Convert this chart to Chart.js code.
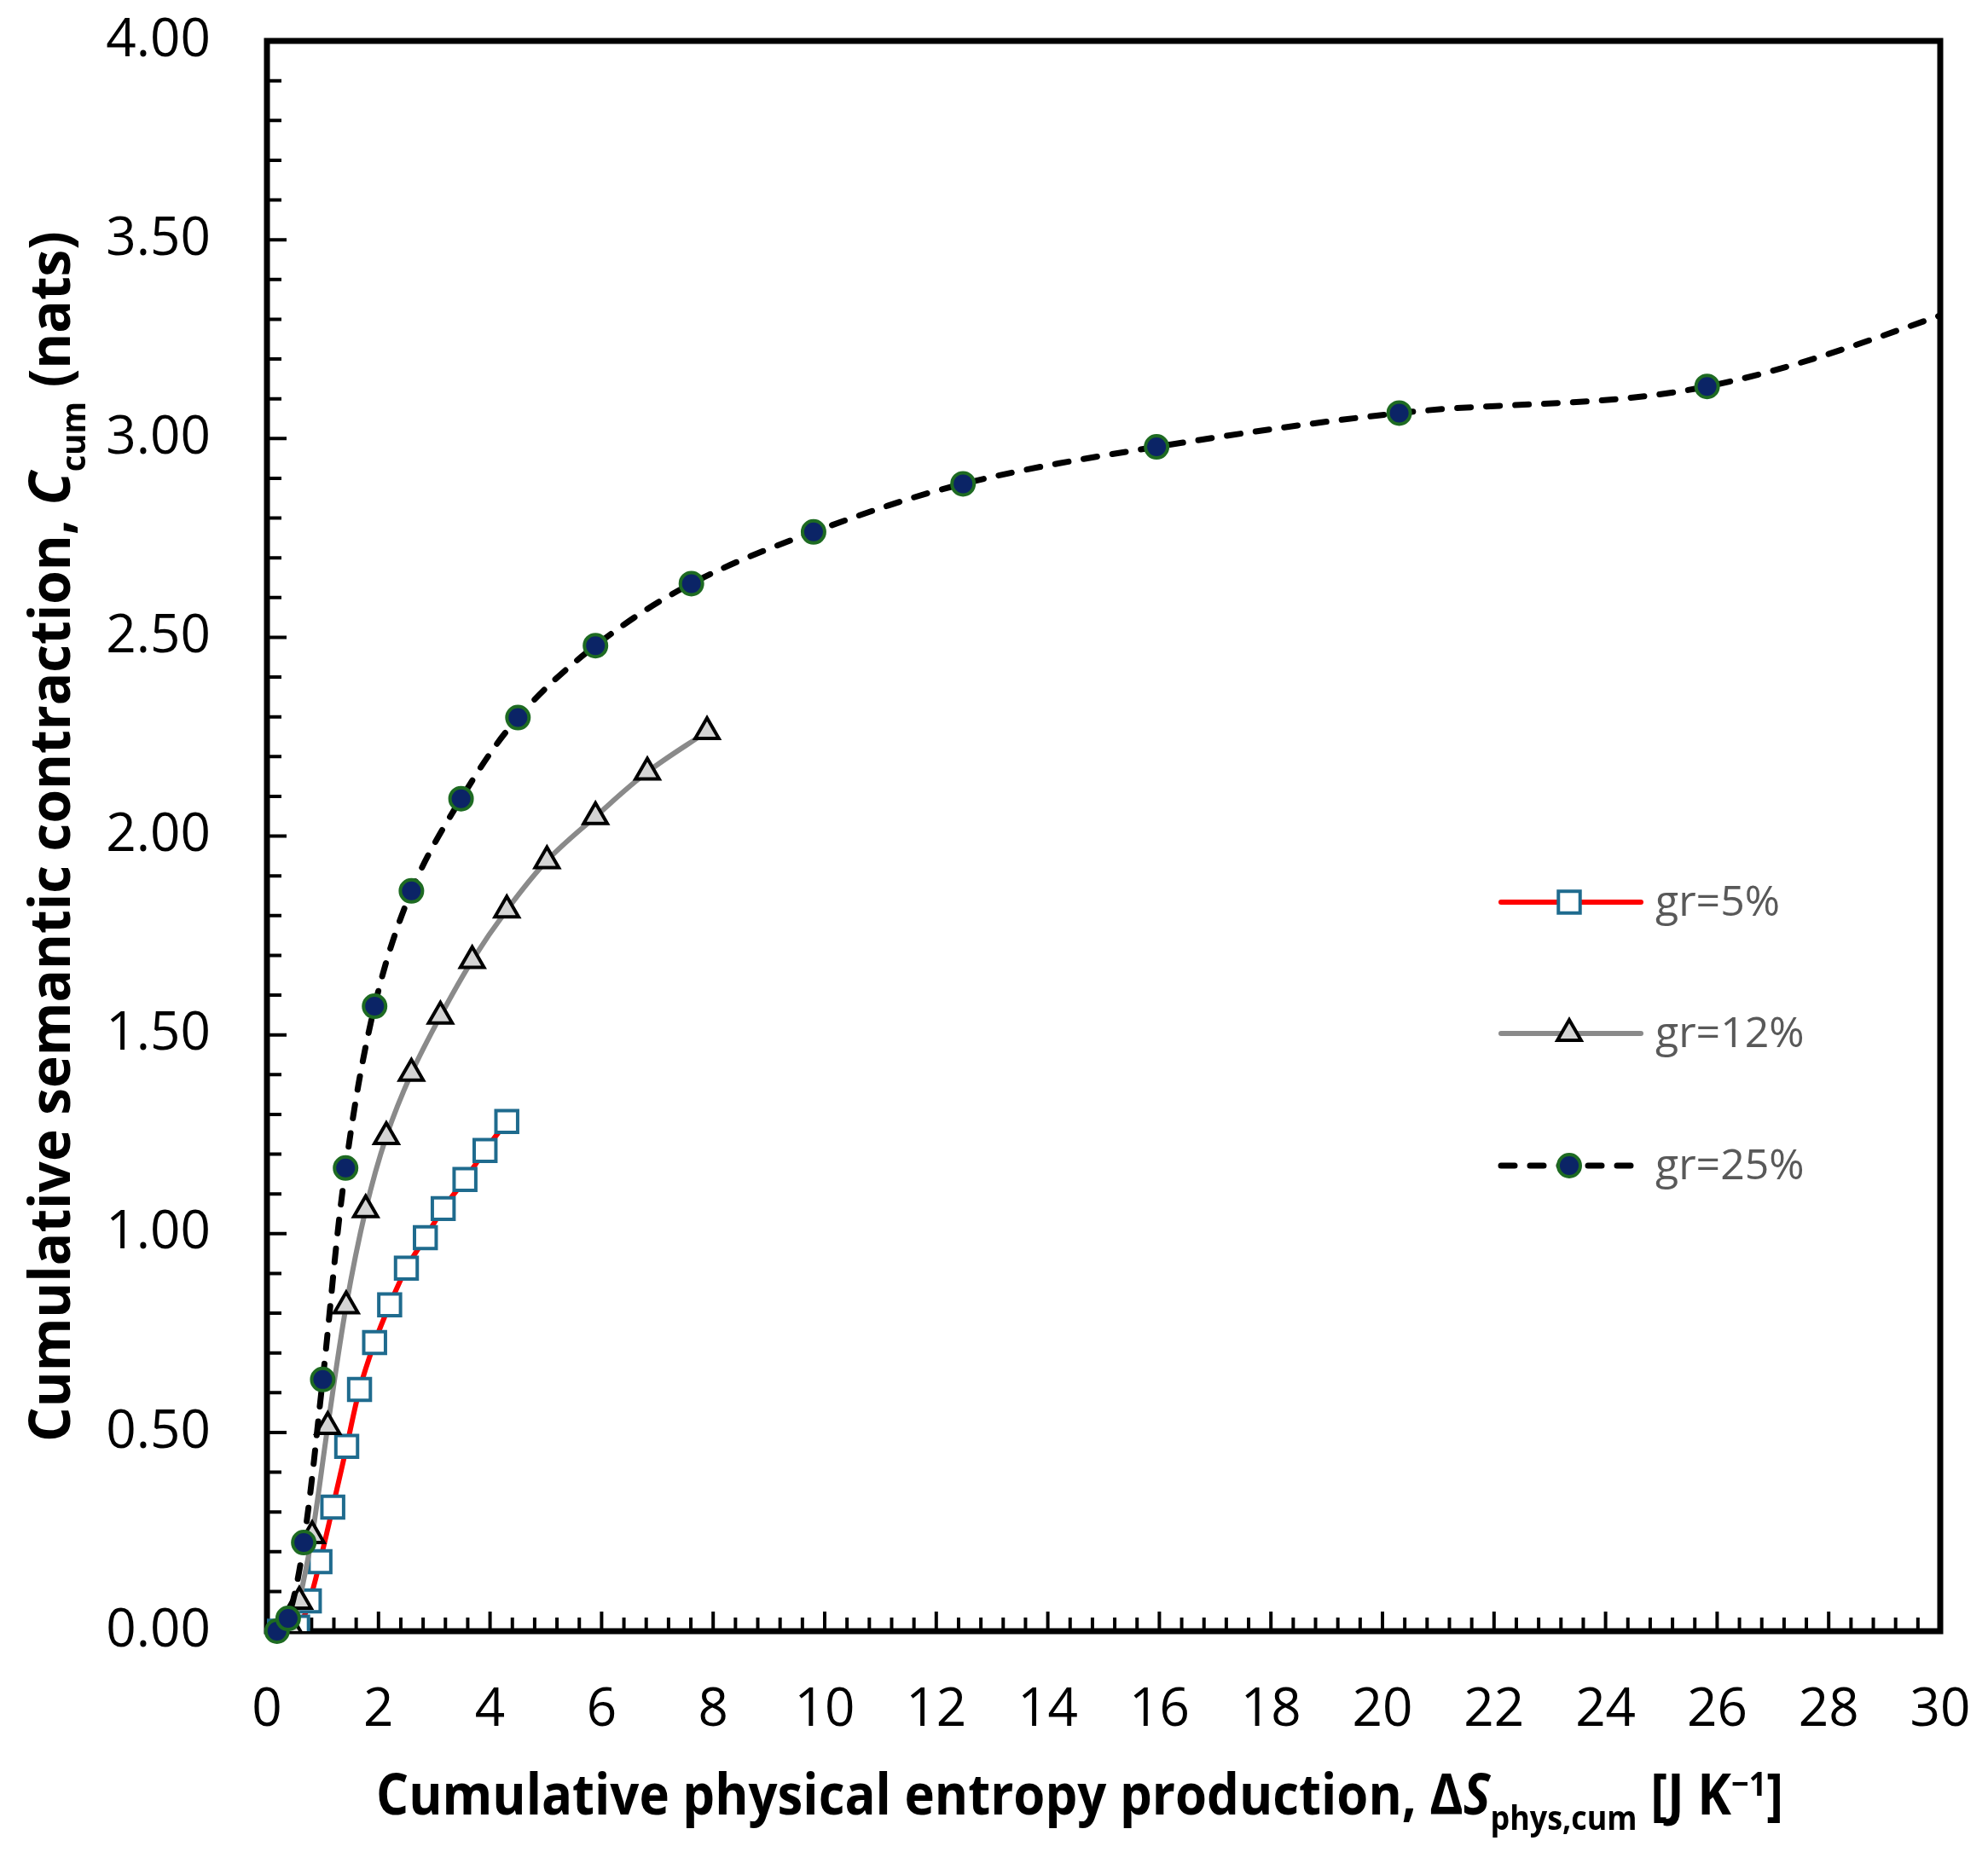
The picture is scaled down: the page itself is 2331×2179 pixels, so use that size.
<!DOCTYPE html>
<html lang="en">
<head>
<meta charset="UTF-8">
<title>Cumulative semantic contraction</title>
<script src="https://cdn.jsdelivr.net/npm/chart.js"></script>
<style>
  html, body { margin: 0; padding: 0; background: #fff; }
  canvas { display: block; }
</style>
</head>
<body>
<canvas id="chart" width="2331" height="2179"></canvas>
<script>
  // values
  const gr5X = [0.20, 0.55, 0.76, 0.95, 1.18, 1.43, 1.66, 1.93, 2.20, 2.50, 2.84, 3.16, 3.55, 3.91, 4.30];
  const gr5Y = [0.00, 0.01, 0.076, 0.175, 0.312, 0.465, 0.608, 0.726, 0.821, 0.913, 0.990, 1.063, 1.136, 1.209, 1.282];

  const gr12X = [0.46, 0.58, 0.81, 1.09, 1.42, 1.77, 2.14, 2.59, 3.11, 3.68, 4.30, 5.02, 5.89, 6.82, 7.89];
  const gr12Y = [0.00, 0.075, 0.24, 0.515, 0.818, 1.060, 1.244, 1.403, 1.547, 1.687, 1.814, 1.938, 2.049, 2.161, 2.263];

  // last point lies past the axis end, the curve runs out of the frame
  const gr25X = [0.18, 0.38, 0.66, 1.00, 1.41, 1.93, 2.59, 3.48, 4.50, 5.89, 7.61, 9.80, 12.48, 15.95, 20.30, 25.82, 31.5];
  const gr25Y = [0.00, 0.032, 0.223, 0.633, 1.165, 1.572, 1.862, 2.094, 2.298, 2.479, 2.635, 2.765, 2.886, 2.979, 3.064, 3.131, 3.38];

  const seriesLabels = ['gr=5%', 'gr=12%', 'gr=25%'];
  const xTicks = [0, 2, 4, 6, 8, 10, 12, 14, 16, 18, 20, 22, 24, 26, 28, 30];
  const yTicks = [0, 0.5, 1, 1.5, 2, 2.5, 3, 3.5, 4];
  const xMinor = 0.4;
  const yMinor = 0.1;

  const pts = (xs, ys) => xs.map((x, i) => ({ x: x, y: ys[i] }));
  const FONT = '"Open Sans", sans-serif';

  // inward ticks and the black box
  const frame = {
    id: 'frame',
    beforeDatasetsDraw(chart) {
      const { ctx, chartArea: a, scales: { x, y } } = chart;
      ctx.save();
      ctx.strokeStyle = '#000';
      ctx.lineWidth = 4;
      ctx.beginPath();
      const nx = Math.round((x.max - x.min) / xMinor);
      for (let i = 0; i <= nx; i++) {
        const px = x.getPixelForValue(x.min + i * xMinor);
        const len = i % 5 === 0 ? 23 : 16;
        ctx.moveTo(px, a.bottom);
        ctx.lineTo(px, a.bottom - len);
      }
      const ny = Math.round((y.max - y.min) / yMinor);
      for (let i = 0; i <= ny; i++) {
        const py = y.getPixelForValue(y.min + i * yMinor);
        const len = i % 5 === 0 ? 23 : 17;
        ctx.moveTo(a.left, py);
        ctx.lineTo(a.left + len, py);
      }
      ctx.stroke();
      ctx.lineWidth = 7;
      ctx.strokeRect(a.left, a.top, a.right - a.left, a.bottom - a.top);
      ctx.restore();
    }
  };

  function fontFor(p, size) {
    const s = (p.sub || p.sup) ? size * 0.6 : size;
    return (p.italic ? 'italic ' : '') + 'bold ' + s + 'px ' + FONT;
  }

  // text with italics, sub and superscripts, squeezed to a given width
  function drawRich(ctx, parts, size, cx, base, targetW) {
    let w = 0;
    parts.forEach(p => { ctx.font = fontFor(p, size); w += ctx.measureText(p.t).width; });
    const k = targetW / w;
    ctx.save();
    ctx.translate(cx, base);
    ctx.scale(k, 1);
    ctx.textBaseline = 'alphabetic';
    ctx.textAlign = 'left';
    ctx.fillStyle = '#000';
    let x = -w / 2;
    parts.forEach(p => {
      ctx.font = fontFor(p, size);
      const dy = p.sub ? size * 0.28 : p.sup ? -size * 0.34 : 0;
      ctx.fillText(p.t, x, dy);
      x += ctx.measureText(p.t).width;
    });
    ctx.restore();
  }

  const titles = {
    id: 'titles',
    afterDraw(chart) {
      const ctx = chart.ctx;
      drawRich(ctx, [
        { t: 'Cumulative physical entropy production, Δ' },
        { t: 'S', italic: true },
        { t: 'phys,cum', sub: true },
        { t: ' [J K' },
        { t: '−1', sup: true },
        { t: ']' }
      ], 66, 1266, 2128, 1650);

      ctx.save();
      ctx.translate(82, 981);
      ctx.rotate(-Math.PI / 2);
      drawRich(ctx, [
        { t: 'Cumulative semantic contraction, ' },
        { t: 'C', italic: true },
        { t: 'cum', sub: true },
        { t: ' (nats)' }
      ], 66, 0, 0, 1420);
      ctx.restore();
    }
  };

  function marker(ctx, ds, x, y) {
    const r = ds.pointRadius;
    ctx.save();
    ctx.fillStyle = ds.pointBackgroundColor;
    ctx.strokeStyle = ds.pointBorderColor;
    ctx.lineWidth = ds.pointBorderWidth;
    ctx.setLineDash([]);
    ctx.beginPath();
    if (ds.pointStyle === 'rect') {
      const s = r * Math.SQRT1_2;
      ctx.rect(x - s, y - s, 2 * s, 2 * s);
    } else if (ds.pointStyle === 'triangle') {
      for (let i = 0; i < 3; i++) {
        const a = i * 2 * Math.PI / 3;
        const fn = i === 0 ? 'moveTo' : 'lineTo';
        ctx[fn](x + Math.sin(a) * r, y - Math.cos(a) * r);
      }
      ctx.closePath();
    } else {
      ctx.arc(x, y, r, 0, 2 * Math.PI);
    }
    ctx.fill();
    ctx.stroke();
    ctx.restore();
  }

  // legend sits inside the plot, right of centre
  const legendBox = {
    id: 'legendBox',
    afterDraw(chart) {
      const ctx = chart.ctx;
      const rows = [1058, 1212, 1367];
      chart.data.datasets.forEach((ds, i) => {
        const y = rows[i];
        ctx.save();
        ctx.strokeStyle = ds.borderColor;
        ctx.lineWidth = ds.borderWidth;
        ctx.lineCap = 'round';
        ctx.setLineDash(ds.borderDash || []);
        ctx.beginPath();
        ctx.moveTo(1760, y);
        ctx.lineTo(1924, y);
        ctx.stroke();
        ctx.restore();
        marker(ctx, ds, 1840, y);
        ctx.save();
        ctx.fillStyle = '#595959';
        ctx.font = '50px ' + FONT;
        ctx.textBaseline = 'middle';
        ctx.fillText(ds.label, 1941, y + 2);
        ctx.restore();
      });
    }
  };

  // keep tick labels from pushing the plot box inwards
  const noPad = s => { s.paddingLeft = 0; s.paddingRight = 0; s.paddingTop = 0; s.paddingBottom = 0; };

  new Chart(document.getElementById('chart'), {
    type: 'line',
    data: {
      datasets: [
        {
          label: seriesLabels[0],
          data: pts(gr5X, gr5Y),
          borderColor: '#FF0000',
          borderWidth: 6,
          pointStyle: 'rect',
          pointRadius: 18,
          pointBackgroundColor: '#FFFFFF',
          pointBorderColor: '#1F6B8E',
          pointBorderWidth: 4,
          order: 2
        },
        {
          label: seriesLabels[1],
          data: pts(gr12X, gr12Y),
          borderColor: '#8A8A8A',
          borderWidth: 6,
          pointStyle: 'triangle',
          pointRadius: 16,
          pointBackgroundColor: '#D4D4D4',
          pointBorderColor: '#000000',
          pointBorderWidth: 4,
          order: 1
        },
        {
          label: seriesLabels[2],
          data: pts(gr25X, gr25Y),
          borderColor: '#000000',
          borderWidth: 7,
          borderDash: [16, 18],
          borderCapStyle: 'round',
          pointStyle: 'circle',
          pointRadius: 13,
          pointBackgroundColor: '#0B2466',
          pointBorderColor: '#1E6B22',
          pointBorderWidth: 4,
          clip: { left: 20, top: 20, right: 0, bottom: 20 },
          order: 0
        }
      ]
    },
    options: {
      responsive: false,
      animation: false,
      devicePixelRatio: 1,
      elements: { line: { tension: 0.35, fill: false } },
      layout: { padding: { top: 48, right: 56, bottom: 0, left: 0 } },
      plugins: { legend: { display: false }, tooltip: { enabled: false } },
      scales: {
        x: {
          type: 'linear',
          min: 0,
          max: 30,
          afterBuildTicks: s => { s.ticks = xTicks.map(v => ({ value: v })); },
          afterFit: s => { s.height = 266; noPad(s); },
          grid: { display: false, drawTicks: false },
          border: { display: false },
          ticks: { font: { family: FONT, size: 62 }, color: '#000', padding: 56, maxRotation: 0, autoSkip: false }
        },
        y: {
          type: 'linear',
          min: 0,
          max: 4,
          afterBuildTicks: s => { s.ticks = yTicks.map(v => ({ value: v })); },
          afterFit: s => { s.width = 313; noPad(s); },
          grid: { display: false, drawTicks: false },
          border: { display: false },
          ticks: {
            font: { family: FONT, size: 62 },
            color: '#000',
            padding: 66,
            autoSkip: false,
            callback: v => v.toFixed(2)
          }
        }
      }
    },
    plugins: [frame, titles, legendBox]
  });
</script>
</body>
</html>
